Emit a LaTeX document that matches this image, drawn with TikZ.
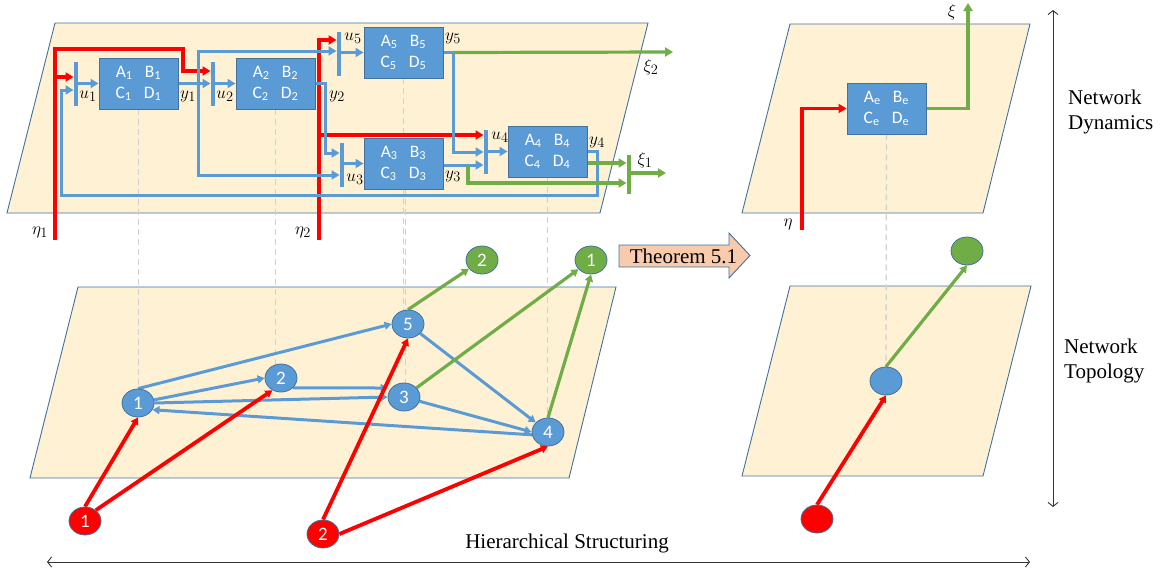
\documentclass[tikz,border=0pt]{standalone}
\usepackage{fontspec}
\setmainfont{Liberation Serif}
\newfontfamily\calib{Carlito}
\usetikzlibrary{arrows.meta,shapes.geometric,calc}
\definecolor{cplane}{HTML}{FFF2D4}
\definecolor{cedge}{HTML}{41719C}
\definecolor{cblue}{HTML}{5B9BD5}
\definecolor{cgreen}{HTML}{70AD47}
\definecolor{cred}{HTML}{FF0000}
\definecolor{cthm}{HTML}{F8CBAD}
\newcommand\blkt[1]{A\textsubscript{#1}\hspace{0.7em}B\textsubscript{#1}\\C\textsubscript{#1}\hspace{0.7em}D\textsubscript{#1}}
\pgfdeclarelayer{bgl}
\pgfdeclarelayer{midl}
\pgfsetlayers{bgl,midl,main}
\begin{document}
\begin{tikzpicture}[x=1pt,y=-1pt,
  pln/.style={fill=cplane,draw=cedge,line width=0.9pt},
  blk/.style={rectangle,fill=cblue,draw=cedge,line width=0.9pt,minimum width=79pt,minimum height=51pt,inner sep=0pt,text=white,font=\calib\fontsize{17.5}{21}\selectfont,align=center},
  barb/.style={rectangle,fill=cblue,minimum width=4.5pt,minimum height=44pt,inner sep=0pt},
  barg/.style={rectangle,fill=cgreen,minimum width=4.5pt,minimum height=39pt,inner sep=0pt},
  tip/.style={-{Triangle[length=8pt,width=9pt]}},
  gtip/.style={-{Triangle[length=7pt,width=8pt]}},
  bl/.style={draw=cblue,line width=3pt},
  rd/.style={draw=cred,line width=3.8pt},
  gr/.style={draw=cgreen,line width=3.2pt},
  lab/.style={font=\fontsize{19}{19}\selectfont,inner sep=0pt},
  gnode/.style={ellipse,minimum width=32pt,minimum height=28pt,inner sep=0pt,draw=cedge,line width=0.8pt,text=white,font=\calib\fontsize{19}{19}\selectfont},
  dsh/.style={draw=black!18,line width=1.3pt,dash pattern=on 6pt off 4pt},
  big/.style={font=\fontsize{21}{25}\selectfont,inner sep=0pt},
  axis/.style={draw=black!80,line width=0.9pt,{Straight Barb[length=4pt,width=10pt]}-{Straight Barb[length=4pt,width=10pt]}},
]
\useasboundingbox (0,0) rectangle (1161,573);

% planes
\begin{pgfonlayer}{bgl}
\path[pln] (55,23) -- (648,23) -- (600,213) -- (7,213) -- cycle;
\path[pln] (78,287) -- (616,287) -- (569,478) -- (30,478) -- cycle;
\path[pln] (790,24) -- (1030,24) -- (983,213) -- (742,213) -- cycle;
\path[pln] (790,286) -- (1031,286) -- (983,476) -- (742,476) -- cycle;
\end{pgfonlayer}

% blocks
\node[blk] (B1) at (138.5,83.5) {\blkt{1}};
\node[blk] (B2) at (275.5,83.5) {\blkt{2}};
\node[blk] (B5) at (403.5,52.5) {\blkt{5}};
\node[blk] (B3) at (403.5,163.5) {\blkt{3}};
\node[blk] (B4) at (547.5,151.5) {\blkt{4}};
\node[blk] (Be) at (886.5,108.5) {\blkt{e}};

% bars
\node[barb] (bar1) at (76,83.5) {};
\node[barb] (bar2) at (213,84) {};
\node[barb] (bar5) at (339,53.5) {};
\node[barb] (bar3) at (342,164.5) {};
\node[barb] (bar4) at (486,151.5) {};
\node[barg] (barx) at (629,174.5) {};

% labels
\node[lab] (lu1) at (88,96) {$u_1$};
\node[lab] (ly1) at (188,96) {$y_1$};
\node[lab] (lu2) at (225,96) {$u_2$};
\node[lab] (ly2) at (337,96) {$y_2$};
\node[lab] (lu5) at (353,38) {$u_5$};
\node[lab] (ly5) at (453,38) {$y_5$};
\node[lab] (lu3) at (355,179) {$u_3$};
\node[lab] (ly3) at (453,176) {$y_3$};
\node[lab] (lu4) at (500,137) {$u_4$};
\node[lab] (ly4) at (597,142) {$y_4$};
\node[lab] (lx2) at (651,67) {$\xi_2$};
\node[lab] (lx1) at (645,160) {$\xi_1$};
\node[lab] (le1) at (40,232) {$\eta_1$};
\node[lab] (le2) at (303,232) {$\eta_2$};
\node[lab] (le) at (788,224) {$\eta$};
\node[lab] (lx) at (952,12) {$\xi$};

% graph nodes
\node[gnode,fill=cblue] (n1) at (138,403) {1};
\node[gnode,fill=cblue] (n2) at (281,378) {2};
\node[gnode,fill=cblue] (n3) at (404,397) {3};
\node[gnode,fill=cblue] (n5) at (408,324) {5};
\node[gnode,fill=cblue] (n4) at (548,432) {4};
\node[gnode,fill=cgreen] (g2) at (482,260) {2};
\node[gnode,fill=cgreen] (g1) at (591,260) {1};
\node[gnode,fill=cred] (r1) at (85,521) {1};
\node[gnode,fill=cred] (r2) at (323,534) {2};
\node[gnode,fill=cblue] (ne) at (886,381) {};
\node[gnode,fill=cgreen] (ge) at (967,251) {};
\node[gnode,fill=cred] (re) at (817,519) {};

% theorem arrow
\path[fill=cthm,draw=cedge,line width=0.9pt] (619,245) -- (729,245) -- (729,233) -- (750,255.5) -- (729,278) -- (729,267) -- (619,267) -- cycle;
\node[big] (thm) at (683.5,256.5) {Theorem 5.1};

% side texts
\node[big,anchor=west,align=left] (nd) at (1068,112) {Network\\Dynamics};
\node[big,anchor=west,align=left] (nt) at (1064,361) {Network\\Topology};
\node[big] (hs) at (567,543) {Hierarchical Structuring};

% free ends
\coordinate (eta1) at (55,240);
\coordinate (eta2) at (319,240);
\coordinate (eta) at (802,230);
\coordinate (xi2) at (673,52);
\coordinate (xi1) at (666,173);
\coordinate (xi) at (968,3);
\coordinate (vt) at (1053,10);
\coordinate (vb) at (1053,507);
\coordinate (hl) at (47,562);
\coordinate (hr) at (1030,562);

\begin{pgfonlayer}{midl}
% dashed projections
\draw[dsh] (B1.south) -- (B1.south |- n1.north);
\draw[dsh] (B2.south) -- (B2.south |- n2.north);
\draw[dsh] (B5.south) -- (B5.south |- n5.north);
\draw[dsh] ([xshift=2pt]B3.south) -- ([xshift=2pt]B3.south |- n3.north);
\draw[dsh] (B4.south) -- (B4.south |- n4.north);
\draw[dsh] (Be.south) -- (ne.north);

% red inputs
\draw[rd,tip] (eta1) -- (55,49) -- (183,49) -- (183,71) -- (bar2.west |- 0,71);
\draw[rd,tip] (55,77) -- (bar1.west |- 0,77);
\draw[rd,tip] (eta2) -- (319,40) -- (bar5.west |- 0,40);
\draw[rd,tip] (319,135) -- (bar4.west |- 0,135);
\draw[rd,tip] (eta) -- (802,108.5) -- (Be.west);

% blue internal
\draw[bl,tip] (bar1.east |- B1) -- (B1.west);
\draw[bl,tip] (bar2.east |- B2) -- (B2.west);
\draw[bl,tip] (bar5.east |- B5) -- (B5.west);
\draw[bl,tip] (bar3.east |- B3) -- (B3.west);
\draw[bl,tip] (bar4.east |- B4) -- (B4.west);
\draw[bl,tip] (B1.east) -- (bar2.west |- B1.east);
\draw[bl,tip] (198,83.5) -- (198,51) -- (bar5.west |- 0,51);
\draw[bl,tip] (198,83.5) -- (198,175) -- (bar3.west |- 0,175);
\draw[bl,tip] (B2.east) -- (325,83.5) -- (325,153) -- (bar3.west |- 0,153);
\draw[bl] (B5.east) -- (453,52.5);
\draw[bl,tip] (453,51) -- (453,152) -- (bar4.west |- 0,152);
\draw[bl,tip] (B3.east |- 0,165) -- (bar4.west |- 0,165);
\draw[bl,tip] (B4.east) -- (597,151.5) -- (597,195) -- (61,195) -- (61,90) -- (bar1.west |- 0,90);

% green outputs
\draw[gr,tip] (453,52.5) -- (xi2);
\draw[gr,tip] (468,165) -- (468,183) -- (barx.west |- 0,183);
\draw[gr,tip] (B4.east |- 0,163) -- (barx.west |- 0,163);
\draw[gr,tip] (barx.east |- xi1) -- (xi1);
\draw[gr,tip] (Be.east) -- (968,108.5) -- (xi);

% graph edges
\draw[bl,gtip] (n1.north) -- (n5.west);
\draw[bl,gtip] (n1) -- (n2.west);
\draw[bl,gtip] (n1.east) -- (n3.west);
\draw[bl,gtip] (n2.-40) -- (n3.west |- 0,388);
\draw[bl,gtip] (n5) -- (n4);
\draw[bl,gtip] (n3) -- (n4.west);
\draw[bl,gtip] (n4.190) -- (n1.-25);
\draw[gr,gtip] (n5.north) -- (g2);
\draw[gr,gtip] (n3) -- (g1);
\draw[gr,gtip] (n4.north) -- (g1.south);
\draw[rd,gtip] (r1.north) -- (n1.south);
\draw[rd,gtip] (r1.45) -- (n2.235);
\draw[rd,gtip] (r2.north) -- (n5.south);
\draw[rd,gtip] (r2.east) -- (n4.south);
\draw[rd,gtip] (re.north) -- (ne.south);
\draw[gr,gtip] (ne.north) -- (ge.south);

% axes
\draw[axis] (vt) -- (vb);
\draw[axis] (hl) -- (hr);
\end{pgfonlayer}
\end{tikzpicture}
\end{document}
